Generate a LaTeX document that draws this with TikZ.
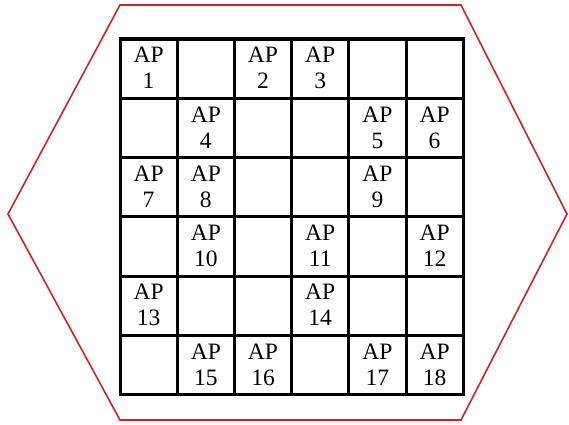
\documentclass[tikz,border=0pt]{standalone}
\usepackage{fontspec}
\setmainfont{Liberation Serif}
\definecolor{hexred}{RGB}{204,34,40}

\begin{document}
\begin{tikzpicture}[x=1pt,y=1pt,
    aplabel/.style={anchor=north,inner sep=0pt,align=center,
      font=\fontsize{23.5}{26}\selectfont}]
  \useasboundingbox (0,0) rectangle (569,424);
  % coverage area
  \draw[hexred,line width=1.6pt,line join=miter]
    (8,210) -- (120,419) -- (461,419) -- (567,210) -- (461,4) -- (120,4) -- cycle;
  % cells
  \begin{scope}[shift={(120,29.2)},x=57.2pt,y=59.3pt]
    \draw[line width=3pt] (0,0) grid[step=1] (6,6);
    \draw[line width=3pt] (0,0) rectangle (6,6);
    \foreach \n/\c/\r in {1/0/0,2/2/0,3/3/0,4/1/1,5/4/1,6/5/1,7/0/2,8/1/2,9/4/2,
        10/1/3,11/3/3,12/5/3,13/0/4,14/3/4,15/1/5,16/2/5,17/4/5,18/5/5}
      \node[aplabel,yshift=-8pt] (AP\n) at (\c+0.5,6-\r) {AP\\\n};
  \end{scope}
\end{tikzpicture}
\end{document}
